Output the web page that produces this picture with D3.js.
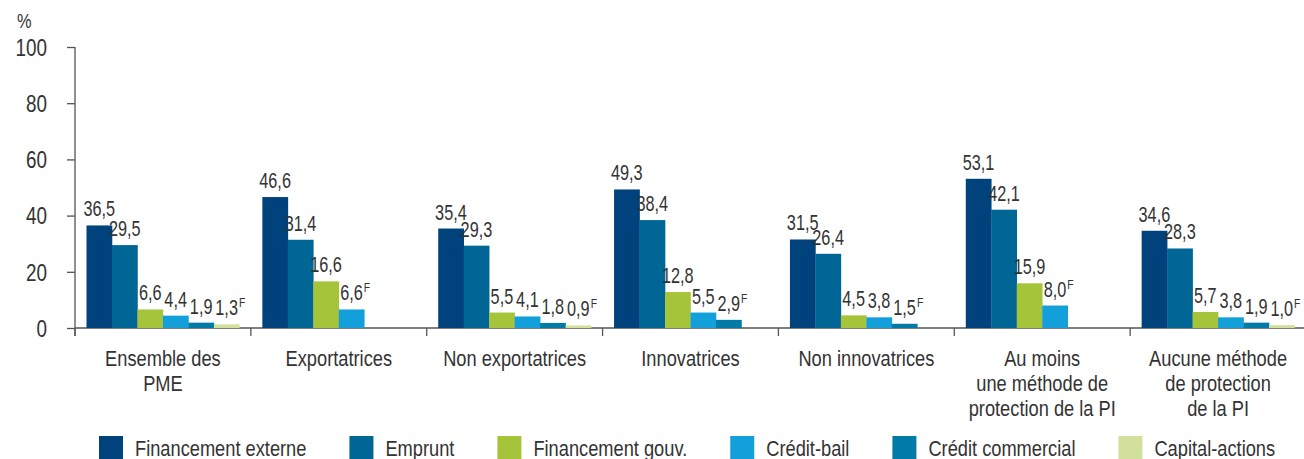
<!DOCTYPE html>
<html><head><meta charset="utf-8">
<script src="https://cdn.jsdelivr.net/npm/d3@7"></script>
<style>
html,body{margin:0;padding:0;background:#fff;}
svg{display:block;font-family:"Liberation Sans",Arial,sans-serif;}
</style></head>
<body><svg id="c" width="1304" height="459"></svg>
<script>
const categories = ["Ensemble des\nPME","Exportatrices","Non exportatrices","Innovatrices","Non innovatrices","Au moins\nune méthode de\nprotection de la PI","Aucune méthode\nde protection\nde la PI"];
const seriesNames = ["Financement externe","Emprunt","Financement gouv.","Crédit-bail","Crédit commercial","Capital-actions"];
const financementExterne = [36.5,46.6,35.4,49.3,31.5,53.1,34.6];
const emprunt = [29.5,31.4,29.3,38.4,26.4,42.1,28.3];
const financementGouv = [6.6,16.6,5.5,12.8,4.5,15.9,5.7];
const creditBail = [4.4,6.6,4.1,5.5,3.8,8.0,3.8];
const creditCommercial = [1.9,null,1.8,2.9,1.5,null,1.9];
const capitalActions = [1.3,null,0.9,null,null,null,1.0];
// "F" quality flags
const flagExterne = [0,0,0,0,0,0,0];
const flagEmprunt = [0,0,0,0,0,0,0];
const flagGouv = [0,0,0,0,0,0,0];
const flagBail = [0,1,0,0,0,1,0];
const flagCommercial = [0,0,0,1,1,0,0];
const flagCapital = [1,0,1,0,0,0,1];
const yTicks = [0,20,40,60,80,100];
const colors = ["#00427b","#006696","#a6c43a","#13a0da","#007aa6","#d1e09b"];

const values = [financementExterne,emprunt,financementGouv,creditBail,creditCommercial,capitalActions];
const flags = [flagExterne,flagEmprunt,flagGouv,flagBail,flagCommercial,flagCapital];

const svg = d3.select("#c");
const textColor = "#333", axisColor = "#555";
const left = 75, right = 1306, y0 = 328, yTop = 47;
const SX = 0.83; // horizontal condensation of the font

const x0 = d3.scaleBand().domain(categories).range([left,right]).paddingInner(0).paddingOuter(0);
const bw = x0.bandwidth();
const x1 = d3.scaleBand().domain(seriesNames).range([11.5,bw-11.5]);
const y = d3.scaleLinear().domain([0,100]).range([y0,yTop]);

function ctext(g,x,yy,str,size,anchor,sx){
  return g.append("text").attr("transform",`translate(${x},${yy}) scale(${sx},1)`)
    .attr("text-anchor",anchor||"start").attr("fill",textColor)
    .style("font-size",size+"px").text(str);
}

// y axis
const yAxis = svg.append("g").attr("transform",`translate(${left},0)`)
  .call(d3.axisLeft(y).tickValues(yTicks).tickSize(8).tickPadding(20).tickFormat(d3.format("d")));
yAxis.select(".domain").attr("stroke",axisColor).attr("stroke-width",1.3).attr("d",`M0,${yTop}V${y0+8}`);
yAxis.selectAll(".tick line").attr("stroke",axisColor).attr("stroke-width",1.3);
yAxis.selectAll(".tick text").attr("fill",textColor).style("font-size","23px").style("font-family","inherit")
  .attr("x",-28/0.82).attr("dy","0.36em").attr("transform","scale(0.82,1)");

ctext(svg,17,28,"%",20,"start",0.82);

// x axis line + ticks at band boundaries
const xg = svg.append("g");
xg.append("line").attr("x1",left).attr("x2",1304).attr("y1",y0).attr("y2",y0).attr("stroke",axisColor).attr("stroke-width",1.3);
xg.selectAll("line.t").data(categories).enter().append("line").attr("class","t")
  .attr("x1",d=>x0(d)).attr("x2",d=>x0(d)).attr("y1",y0).attr("y2",y0+8)
  .attr("stroke",axisColor).attr("stroke-width",1.3);

// category labels
const cg = svg.append("g");
categories.forEach(d=>{
  const t = ctext(cg,x0(d)+bw/2,366,"",22,"middle",SX);
  d.split("\n").forEach((line,i)=>{
    t.append("tspan").attr("x",0).attr("y",i*25).text(line);
  });
});

// bars
const data = [];
categories.forEach((c,ci)=>{
  seriesNames.forEach((s,si)=>{
    const v = values[si][ci];
    if(v!=null) data.push({c,s,si,v,f:flags[si][ci]});
  });
});
svg.append("g").selectAll("rect").data(data).enter().append("rect")
  .attr("x",d=>x0(d.c)+x1(d.s)).attr("width",x1.bandwidth()+0.3)
  .attr("y",d=>y(d.v)).attr("height",d=>y0-y(d.v))
  .attr("fill",d=>colors[d.si]);

// value labels
const fmt = v => v.toFixed(1).replace(".",",");
const lg = svg.append("g");
data.forEach(d=>{
  const cx = x0(d.c)+x1(d.s)+x1.bandwidth()/2;
  const by = y(d.v)-9;
  const t = ctext(lg,cx,by,fmt(d.v),22,"middle",0.74);
  if(d.f){
    const w = t.node().getComputedTextLength()*0.74;
    ctext(lg,cx+w/2+1,by-8,"F",13,"start",0.8);
  }
});

// legend
const leg = svg.append("g");
let lx = 99;
seriesNames.forEach((s,i)=>{
  leg.append("rect").attr("x",lx).attr("y",436).attr("width",24).attr("height",23).attr("fill",colors[i]);
  const t = ctext(leg,lx+36,456,s,22,"start",SX);
  lx += 36 + t.node().getComputedTextLength()*SX + 43;
});
</script></body></html>
